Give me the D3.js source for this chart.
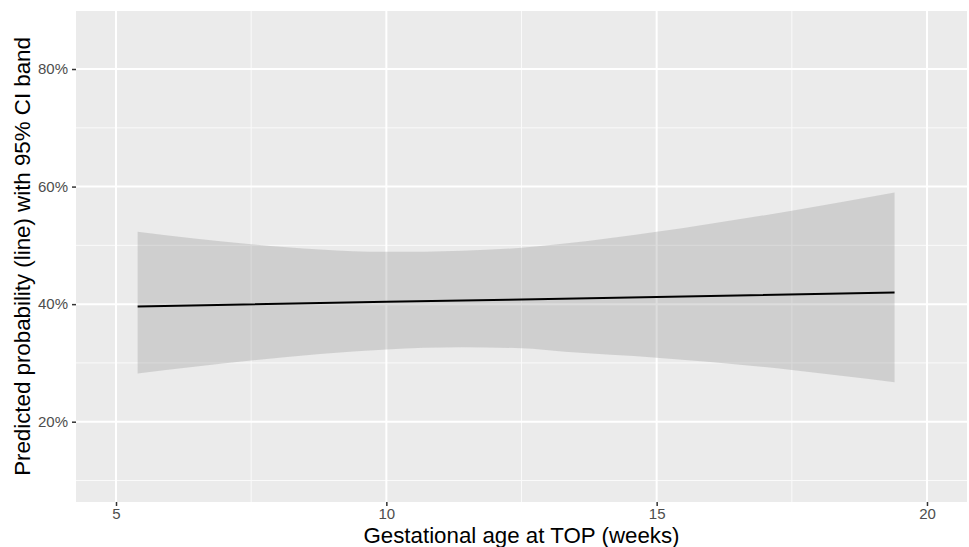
<!DOCTYPE html>
<html lang="en">
<head>
<meta charset="utf-8">
<script src="https://d3js.org/d3.v7.min.js"></script>
<style>
  body { margin: 0; background: #fff; }
  .tick text { font-family: "Liberation Sans", Arial, sans-serif; font-size: 15px; fill: #4d4d4d; }
  .title { font-family: "Liberation Sans", Arial, sans-serif; font-size: 22.3px; fill: #000; }
</style>
</head>
<body>
<svg id="chart" width="969" height="547"></svg>
<script>
// predicted probability with 95% CI
var weeks     = [5.4, 7.5, 10, 11.4, 12.5, 13.3, 15, 17.5, 19.4];
var ciUpper   = [0.523, 0.502, 0.489, 0.491, 0.496, 0.503, 0.523, 0.559, 0.590];
var ciLower   = [0.282, 0.304, 0.323, 0.3265, 0.325, 0.319, 0.309, 0.288, 0.267];
var lineWeeks = [5.4, 10, 15, 19.4];
var lineProb  = [0.396, 0.404, 0.412, 0.420];

var xTicks = [5, 10, 15, 20];
var xMinor = [7.5, 12.5, 17.5];
var yTicks = [0.2, 0.4, 0.6, 0.8];
var yMinor = [0.1, 0.3, 0.5, 0.7];

var margin = {top: 11, right: 2, bottom: 45, left: 76};
var svg = d3.select("#chart");
var width = 969 - margin.left - margin.right;
var height = 547 - margin.top - margin.bottom;

var g = svg.append("g").attr("transform", "translate(" + margin.left + "," + margin.top + ")");

var x = d3.scaleLinear().domain([4.26, 20.74]).range([0, width]);
var y = d3.scaleLinear().domain([0.0634, 0.8987]).range([height, 0]);

// panel
g.append("rect").attr("width", width).attr("height", height).attr("fill", "#ebebeb");

// minor grid
g.selectAll(".xminor").data(xMinor).enter().append("line")
  .attr("x1", d => x(d)).attr("x2", d => x(d)).attr("y1", 0).attr("y2", height)
  .attr("stroke", "#fafafa").attr("stroke-width", 1);
g.selectAll(".yminor").data(yMinor).enter().append("line")
  .attr("y1", d => y(d)).attr("y2", d => y(d)).attr("x1", 0).attr("x2", width)
  .attr("stroke", "#fafafa").attr("stroke-width", 1);

// major grid
g.selectAll(".xmajor").data(xTicks).enter().append("line")
  .attr("x1", d => x(d)).attr("x2", d => x(d)).attr("y1", 0).attr("y2", height)
  .attr("stroke", "#fff").attr("stroke-width", 2);
g.selectAll(".ymajor").data(yTicks).enter().append("line")
  .attr("y1", d => y(d)).attr("y2", d => y(d)).attr("x1", 0).attr("x2", width)
  .attr("stroke", "#fff").attr("stroke-width", 2);

// CI band
var band = weeks.map((w, i) => ({w: w, lo: ciLower[i], hi: ciUpper[i]}));
var area = d3.area()
  .x(d => x(d.w)).y0(d => y(d.lo)).y1(d => y(d.hi))
  .curve(d3.curveMonotoneX);
g.append("path").datum(band).attr("d", area)
  .attr("fill", "#999").attr("fill-opacity", 0.33);

// predicted line
var pts = lineWeeks.map((w, i) => ({w: w, p: lineProb[i]}));
var line = d3.line().x(d => x(d.w)).y(d => y(d.p)).curve(d3.curveMonotoneX);
g.append("path").datum(pts).attr("d", line)
  .attr("fill", "none").attr("stroke", "#000").attr("stroke-width", 2);

// axes
var xAxis = g.append("g").attr("transform", "translate(0," + height + ")")
  .call(d3.axisBottom(x).tickValues(xTicks).tickSize(4).tickPadding(2).tickFormat(d3.format("d")));
var yAxis = g.append("g")
  .call(d3.axisLeft(y).tickValues(yTicks).tickSize(4).tickPadding(4).tickFormat(d3.format(".0%")));
[xAxis, yAxis].forEach(function(a) {
  a.select(".domain").remove();
  a.selectAll(".tick line").attr("stroke", "#333").attr("stroke-width", 1.5);
});

// axis titles
svg.append("text").attr("class", "title")
  .attr("x", margin.left + width / 2).attr("y", 542.5)
  .attr("text-anchor", "middle")
  .text("Gestational age at TOP (weeks)");
svg.append("text").attr("class", "title")
  .attr("transform", "translate(30," + (margin.top + height / 2) + ") rotate(-90)")
  .attr("text-anchor", "middle")
  .text("Predicted probability (line) with 95% CI band");
</script>
</body>
</html>
